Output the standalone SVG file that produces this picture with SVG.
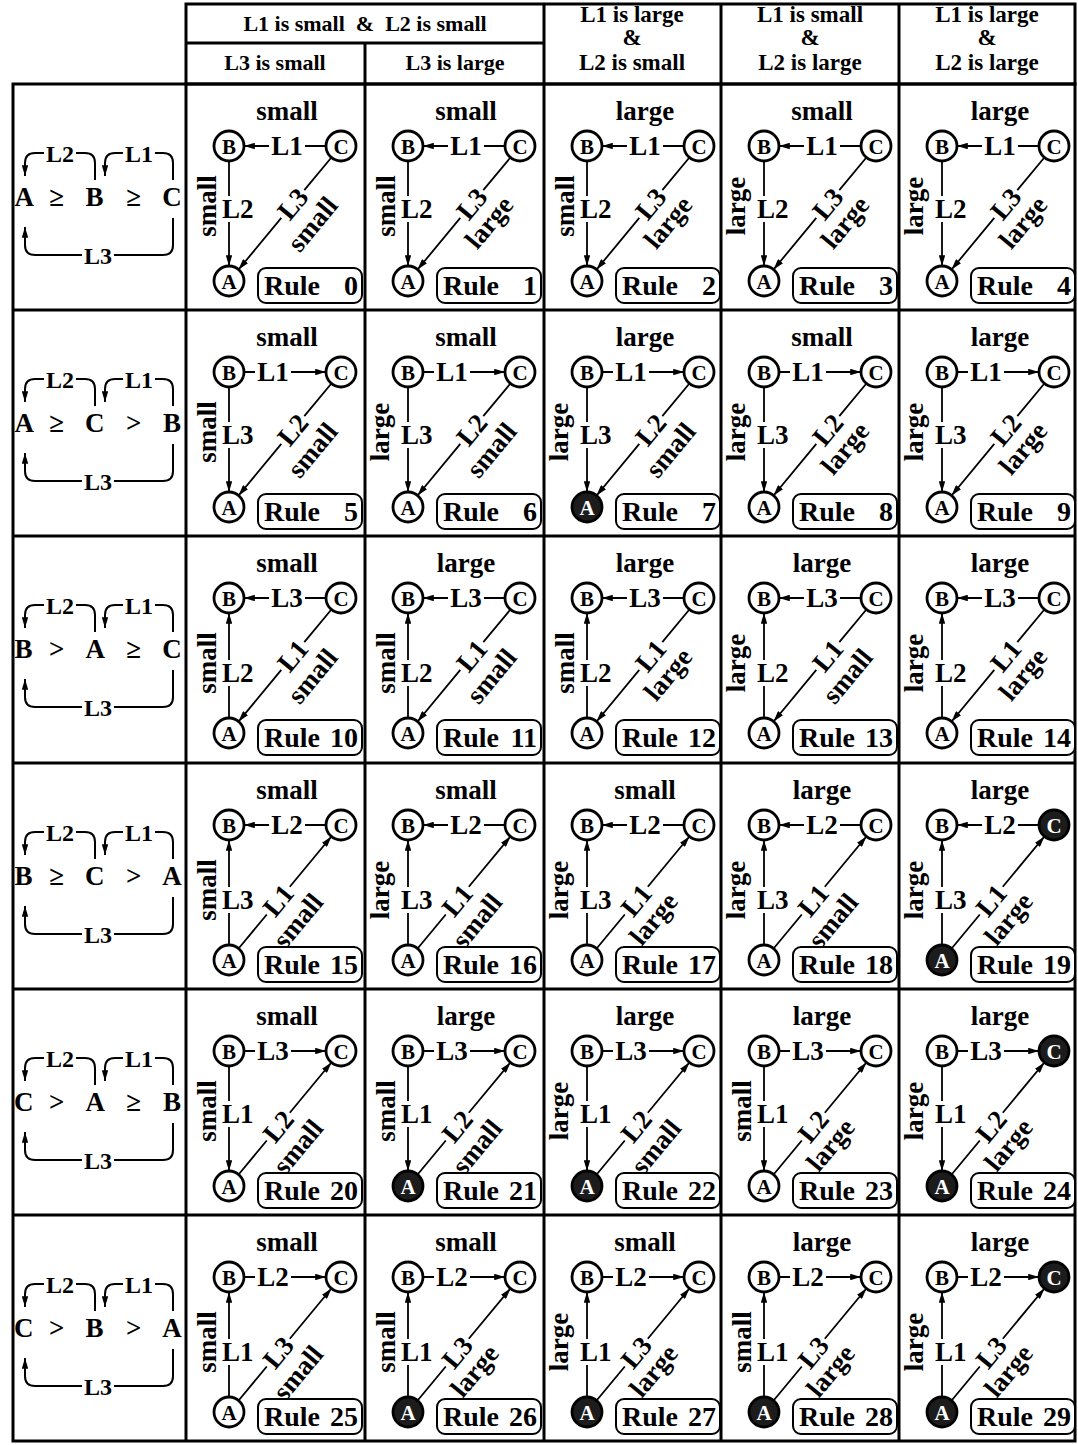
<svg xmlns="http://www.w3.org/2000/svg" width="1078" height="1445" viewBox="0 0 1078 1445">
<defs>
<marker id="ah" viewBox="0 0 10 6" refX="10" refY="3" markerWidth="11" markerHeight="6.5" orient="auto" markerUnits="userSpaceOnUse"><path d="M0,0 L10,3 L0,6 z" fill="#000"/></marker>
<style>
text{font-family:"Liberation Serif","Times New Roman",serif;font-weight:bold;fill:#000}
.tb{stroke:#000;stroke-width:3;fill:none}
#connectors path{stroke:#000;stroke-width:1.8;fill:none;marker-end:url(#ah)}
#connectors .arc{stroke-width:2}
.el{font-size:27px;text-anchor:middle}
.ev{font-size:27px;text-anchor:start}
.sz{font-size:27px;text-anchor:middle}
.node circle{fill:#fff;stroke:#000;stroke-width:2.8}
.node text{font-size:21px;text-anchor:middle}
.dk circle{fill:#1c1c1c}
.dk text{fill:#fff}
.rb{fill:#fff;stroke:#000;stroke-width:2}
.rt{font-size:28px}
.num{text-anchor:end}
.hd{font-size:22px;text-anchor:middle}
.hd3{font-size:23px;text-anchor:middle}
.lc{font-size:27px;text-anchor:middle}
.ll{font-size:24px;text-anchor:middle}
</style>
</defs>
<rect width="1078" height="1445" fill="#fff"/>

<g id="header">
<rect class="tb" x="186" y="4" width="889" height="80"/>
<line class="tb" x1="186" y1="43" x2="544" y2="43"/>
<line class="tb" x1="365" y1="43" x2="365" y2="84"/>
<line class="tb" x1="544" y1="4" x2="544" y2="84"/>
<line class="tb" x1="721" y1="4" x2="721" y2="84"/>
<line class="tb" x1="899" y1="4" x2="899" y2="84"/>
<text class="hd" x="365" y="31" xml:space="preserve">L1 is small  &amp;  L2 is small</text>
<text class="hd" x="275" y="70">L3 is small</text>
<text class="hd" x="455" y="70">L3 is large</text>
<text class="hd3" x="632" y="22">L1 is large</text>
<text class="hd3" x="632" y="45">&amp;</text>
<text class="hd3" x="632" y="70">L2 is small</text>
<text class="hd3" x="810" y="22">L1 is small</text>
<text class="hd3" x="810" y="45">&amp;</text>
<text class="hd3" x="810" y="70">L2 is large</text>
<text class="hd3" x="987" y="22">L1 is large</text>
<text class="hd3" x="987" y="45">&amp;</text>
<text class="hd3" x="987" y="70">L2 is large</text>
</g>

<g id="table">
<rect class="tb" x="13" y="84" width="1062" height="1357"/>
<line class="tb" x1="186" y1="84" x2="186" y2="1441"/>
<line class="tb" x1="365" y1="84" x2="365" y2="1441"/>
<line class="tb" x1="544" y1="84" x2="544" y2="1441"/>
<line class="tb" x1="721" y1="84" x2="721" y2="1441"/>
<line class="tb" x1="899" y1="84" x2="899" y2="1441"/>
<line class="tb" x1="13" y1="310" x2="1075" y2="310"/>
<line class="tb" x1="13" y1="536" x2="1075" y2="536"/>
<line class="tb" x1="13" y1="763" x2="1075" y2="763"/>
<line class="tb" x1="13" y1="989" x2="1075" y2="989"/>
<line class="tb" x1="13" y1="1215" x2="1075" y2="1215"/>
</g>

<g id="connectors">
<g transform="translate(0,84)"><path class="arc" d="M95,96 V79 Q95,69 85,69 H76 M44,69 H35 Q25,69 25,79 V92"/><path class="arc" d="M173,96 V79 Q173,69 163,69 H155 M123,69 H115 Q105,69 105,79 V92"/><path class="arc" d="M173,134 V161 Q173,171 163,171 H114 M82,171 H35 Q25,171 25,161 V143"/></g>
<g transform="translate(0,310)"><path class="arc" d="M95,96 V79 Q95,69 85,69 H76 M44,69 H35 Q25,69 25,79 V92"/><path class="arc" d="M173,96 V79 Q173,69 163,69 H155 M123,69 H115 Q105,69 105,79 V92"/><path class="arc" d="M173,134 V161 Q173,171 163,171 H114 M82,171 H35 Q25,171 25,161 V143"/></g>
<g transform="translate(0,536)"><path class="arc" d="M95,96 V79 Q95,69 85,69 H76 M44,69 H35 Q25,69 25,79 V92"/><path class="arc" d="M173,96 V79 Q173,69 163,69 H155 M123,69 H115 Q105,69 105,79 V92"/><path class="arc" d="M173,134 V161 Q173,171 163,171 H114 M82,171 H35 Q25,171 25,161 V143"/></g>
<g transform="translate(0,763)"><path class="arc" d="M95,96 V79 Q95,69 85,69 H76 M44,69 H35 Q25,69 25,79 V92"/><path class="arc" d="M173,96 V79 Q173,69 163,69 H155 M123,69 H115 Q105,69 105,79 V92"/><path class="arc" d="M173,134 V161 Q173,171 163,171 H114 M82,171 H35 Q25,171 25,161 V143"/></g>
<g transform="translate(0,989)"><path class="arc" d="M95,96 V79 Q95,69 85,69 H76 M44,69 H35 Q25,69 25,79 V92"/><path class="arc" d="M173,96 V79 Q173,69 163,69 H155 M123,69 H115 Q105,69 105,79 V92"/><path class="arc" d="M173,134 V161 Q173,171 163,171 H114 M82,171 H35 Q25,171 25,161 V143"/></g>
<g transform="translate(0,1215)"><path class="arc" d="M95,96 V79 Q95,69 85,69 H76 M44,69 H35 Q25,69 25,79 V92"/><path class="arc" d="M173,96 V79 Q173,69 163,69 H155 M123,69 H115 Q105,69 105,79 V92"/><path class="arc" d="M173,134 V161 Q173,171 163,171 H114 M82,171 H35 Q25,171 25,161 V143"/></g>

<g transform="translate(186,84)"><path d="M140,62 H119 M83,62 H58"/><path d="M43,77 V112 M43,138 V182"/><path d="M145.4,73.5 L118.3,106.1 M95.3,133.9 L52.6,185.5"/></g>
<g transform="translate(365,84)"><path d="M140,62 H119 M83,62 H58"/><path d="M43,77 V112 M43,138 V182"/><path d="M145.4,73.5 L118.3,106.1 M95.3,133.9 L52.6,185.5"/></g>
<g transform="translate(544,84)"><path d="M140,62 H119 M83,62 H58"/><path d="M43,77 V112 M43,138 V182"/><path d="M145.4,73.5 L118.3,106.1 M95.3,133.9 L52.6,185.5"/></g>
<g transform="translate(721,84)"><path d="M140,62 H119 M83,62 H58"/><path d="M43,77 V112 M43,138 V182"/><path d="M145.4,73.5 L118.3,106.1 M95.3,133.9 L52.6,185.5"/></g>
<g transform="translate(899,84)"><path d="M140,62 H119 M83,62 H58"/><path d="M43,77 V112 M43,138 V182"/><path d="M145.4,73.5 L118.3,106.1 M95.3,133.9 L52.6,185.5"/></g>

<g transform="translate(186,310)"><path d="M58,62 H69 M105,62 H140"/><path d="M43,77 V112 M43,138 V182"/><path d="M145.4,73.5 L118.3,106.1 M95.3,133.9 L52.6,185.5"/></g>
<g transform="translate(365,310)"><path d="M58,62 H69 M105,62 H140"/><path d="M43,77 V112 M43,138 V182"/><path d="M145.4,73.5 L118.3,106.1 M95.3,133.9 L52.6,185.5"/></g>
<g transform="translate(544,310)"><path d="M58,62 H69 M105,62 H140"/><path d="M43,77 V112 M43,138 V182"/><path d="M145.4,73.5 L118.3,106.1 M95.3,133.9 L52.6,185.5"/></g>
<g transform="translate(721,310)"><path d="M58,62 H69 M105,62 H140"/><path d="M43,77 V112 M43,138 V182"/><path d="M145.4,73.5 L118.3,106.1 M95.3,133.9 L52.6,185.5"/></g>
<g transform="translate(899,310)"><path d="M58,62 H69 M105,62 H140"/><path d="M43,77 V112 M43,138 V182"/><path d="M145.4,73.5 L118.3,106.1 M95.3,133.9 L52.6,185.5"/></g>

<g transform="translate(186,536)"><path d="M140,62 H119 M83,62 H58"/><path d="M43,182 V150 M43,124 V77"/><path d="M145.4,73.5 L118.3,106.1 M95.3,133.9 L52.6,185.5"/></g>
<g transform="translate(365,536)"><path d="M140,62 H119 M83,62 H58"/><path d="M43,182 V150 M43,124 V77"/><path d="M145.4,73.5 L118.3,106.1 M95.3,133.9 L52.6,185.5"/></g>
<g transform="translate(544,536)"><path d="M140,62 H119 M83,62 H58"/><path d="M43,182 V150 M43,124 V77"/><path d="M145.4,73.5 L118.3,106.1 M95.3,133.9 L52.6,185.5"/></g>
<g transform="translate(721,536)"><path d="M140,62 H119 M83,62 H58"/><path d="M43,182 V150 M43,124 V77"/><path d="M145.4,73.5 L118.3,106.1 M95.3,133.9 L52.6,185.5"/></g>
<g transform="translate(899,536)"><path d="M140,62 H119 M83,62 H58"/><path d="M43,182 V150 M43,124 V77"/><path d="M145.4,73.5 L118.3,106.1 M95.3,133.9 L52.6,185.5"/></g>

<g transform="translate(186,763)"><path d="M140,62 H119 M83,62 H58"/><path d="M43,182 V150 M43,124 V77"/><path d="M52.6,185.5 L80.8,151.5 M103.8,123.7 L145.4,73.5"/></g>
<g transform="translate(365,763)"><path d="M140,62 H119 M83,62 H58"/><path d="M43,182 V150 M43,124 V77"/><path d="M52.6,185.5 L80.8,151.5 M103.8,123.7 L145.4,73.5"/></g>
<g transform="translate(544,763)"><path d="M140,62 H119 M83,62 H58"/><path d="M43,182 V150 M43,124 V77"/><path d="M52.6,185.5 L80.8,151.5 M103.8,123.7 L145.4,73.5"/></g>
<g transform="translate(721,763)"><path d="M140,62 H119 M83,62 H58"/><path d="M43,182 V150 M43,124 V77"/><path d="M52.6,185.5 L80.8,151.5 M103.8,123.7 L145.4,73.5"/></g>
<g transform="translate(899,763)"><path d="M140,62 H119 M83,62 H58"/><path d="M43,182 V150 M43,124 V77"/><path d="M52.6,185.5 L80.8,151.5 M103.8,123.7 L145.4,73.5"/></g>

<g transform="translate(186,989)"><path d="M58,62 H69 M105,62 H140"/><path d="M43,77 V112 M43,138 V182"/><path d="M52.6,185.5 L80.8,151.5 M103.8,123.7 L145.4,73.5"/></g>
<g transform="translate(365,989)"><path d="M58,62 H69 M105,62 H140"/><path d="M43,77 V112 M43,138 V182"/><path d="M52.6,185.5 L80.8,151.5 M103.8,123.7 L145.4,73.5"/></g>
<g transform="translate(544,989)"><path d="M58,62 H69 M105,62 H140"/><path d="M43,77 V112 M43,138 V182"/><path d="M52.6,185.5 L80.8,151.5 M103.8,123.7 L145.4,73.5"/></g>
<g transform="translate(721,989)"><path d="M58,62 H69 M105,62 H140"/><path d="M43,77 V112 M43,138 V182"/><path d="M52.6,185.5 L80.8,151.5 M103.8,123.7 L145.4,73.5"/></g>
<g transform="translate(899,989)"><path d="M58,62 H69 M105,62 H140"/><path d="M43,77 V112 M43,138 V182"/><path d="M52.6,185.5 L80.8,151.5 M103.8,123.7 L145.4,73.5"/></g>

<g transform="translate(186,1215)"><path d="M58,62 H69 M105,62 H140"/><path d="M43,182 V150 M43,124 V77"/><path d="M52.6,185.5 L80.8,151.5 M103.8,123.7 L145.4,73.5"/></g>
<g transform="translate(365,1215)"><path d="M58,62 H69 M105,62 H140"/><path d="M43,182 V150 M43,124 V77"/><path d="M52.6,185.5 L80.8,151.5 M103.8,123.7 L145.4,73.5"/></g>
<g transform="translate(544,1215)"><path d="M58,62 H69 M105,62 H140"/><path d="M43,182 V150 M43,124 V77"/><path d="M52.6,185.5 L80.8,151.5 M103.8,123.7 L145.4,73.5"/></g>
<g transform="translate(721,1215)"><path d="M58,62 H69 M105,62 H140"/><path d="M43,182 V150 M43,124 V77"/><path d="M52.6,185.5 L80.8,151.5 M103.8,123.7 L145.4,73.5"/></g>
<g transform="translate(899,1215)"><path d="M58,62 H69 M105,62 H140"/><path d="M43,182 V150 M43,124 V77"/><path d="M52.6,185.5 L80.8,151.5 M103.8,123.7 L145.4,73.5"/></g>
</g>

<g id="orders">
<g id="order1" transform="translate(0,84)"><text class="ll" x="60" y="78">L2</text><text class="ll" x="139" y="78">L1</text><text class="ll" x="98" y="180">L3</text><text class="lc" y="122"><tspan x="27">A</tspan> <tspan x="60">≥</tspan> <tspan x="98">B</tspan> <tspan x="137">≥</tspan> <tspan x="172">C</tspan></text></g>
<g id="order2" transform="translate(0,310)"><text class="ll" x="60" y="78">L2</text><text class="ll" x="139" y="78">L1</text><text class="ll" x="98" y="180">L3</text><text class="lc" y="122"><tspan x="27">A</tspan> <tspan x="60">≥</tspan> <tspan x="98">C</tspan> <tspan x="137">&gt;</tspan> <tspan x="172">B</tspan></text></g>
<g id="order3" transform="translate(0,536)"><text class="ll" x="60" y="78">L2</text><text class="ll" x="139" y="78">L1</text><text class="ll" x="98" y="180">L3</text><text class="lc" y="122"><tspan x="27">B</tspan> <tspan x="60">&gt;</tspan> <tspan x="98">A</tspan> <tspan x="137">≥</tspan> <tspan x="172">C</tspan></text></g>
<g id="order4" transform="translate(0,763)"><text class="ll" x="60" y="78">L2</text><text class="ll" x="139" y="78">L1</text><text class="ll" x="98" y="180">L3</text><text class="lc" y="122"><tspan x="27">B</tspan> <tspan x="60">≥</tspan> <tspan x="98">C</tspan> <tspan x="137">&gt;</tspan> <tspan x="172">A</tspan></text></g>
<g id="order5" transform="translate(0,989)"><text class="ll" x="60" y="78">L2</text><text class="ll" x="139" y="78">L1</text><text class="ll" x="98" y="180">L3</text><text class="lc" y="122"><tspan x="27">C</tspan> <tspan x="60">&gt;</tspan> <tspan x="98">A</tspan> <tspan x="137">≥</tspan> <tspan x="172">B</tspan></text></g>
<g id="order6" transform="translate(0,1215)"><text class="ll" x="60" y="78">L2</text><text class="ll" x="139" y="78">L1</text><text class="ll" x="98" y="180">L3</text><text class="lc" y="122"><tspan x="27">C</tspan> <tspan x="60">&gt;</tspan> <tspan x="98">B</tspan> <tspan x="137">&gt;</tspan> <tspan x="172">A</tspan></text></g>
</g>

<g id="rules">
<g id="cell0" transform="translate(186,84)"><text class="sz" x="101" y="36">small</text><text class="el" x="101" y="71">L1</text><text class="ev" x="36" y="134">L2</text><text class="sz" transform="translate(30,122) rotate(-90)">small</text><g transform="translate(106.8,120) rotate(-50.3)"><text class="el" y="9">L3</text><text class="sz" x="-3" y="37">small</text></g><rect class="rb" x="72" y="184" width="104" height="35" rx="8"/><text class="rt" x="78" y="211">Rule <tspan class="num" x="172">0</tspan></text><g id="r0B" class="node" transform="translate(43,62)"><circle r="15"/><text y="7.5">B</text></g><g id="r0C" class="node" transform="translate(155,62)"><circle r="15"/><text y="7.5">C</text></g><g id="r0A" class="node" transform="translate(43,197)"><circle r="15"/><text y="7.5">A</text></g></g>
<g id="cell1" transform="translate(365,84)"><text class="sz" x="101" y="36">small</text><text class="el" x="101" y="71">L1</text><text class="ev" x="36" y="134">L2</text><text class="sz" transform="translate(30,122) rotate(-90)">small</text><g transform="translate(106.8,120) rotate(-50.3)"><text class="el" y="9">L3</text><text class="sz" x="-3" y="34">large</text></g><rect class="rb" x="72" y="184" width="104" height="35" rx="8"/><text class="rt" x="78" y="211">Rule <tspan class="num" x="172">1</tspan></text><g id="r1B" class="node" transform="translate(43,62)"><circle r="15"/><text y="7.5">B</text></g><g id="r1C" class="node" transform="translate(155,62)"><circle r="15"/><text y="7.5">C</text></g><g id="r1A" class="node" transform="translate(43,197)"><circle r="15"/><text y="7.5">A</text></g></g>
<g id="cell2" transform="translate(544,84)"><text class="sz" x="101" y="36">large</text><text class="el" x="101" y="71">L1</text><text class="ev" x="36" y="134">L2</text><text class="sz" transform="translate(30,122) rotate(-90)">small</text><g transform="translate(106.8,120) rotate(-50.3)"><text class="el" y="9">L3</text><text class="sz" x="-3" y="34">large</text></g><rect class="rb" x="72" y="184" width="104" height="35" rx="8"/><text class="rt" x="78" y="211">Rule <tspan class="num" x="172">2</tspan></text><g id="r2B" class="node" transform="translate(43,62)"><circle r="15"/><text y="7.5">B</text></g><g id="r2C" class="node" transform="translate(155,62)"><circle r="15"/><text y="7.5">C</text></g><g id="r2A" class="node" transform="translate(43,197)"><circle r="15"/><text y="7.5">A</text></g></g>
<g id="cell3" transform="translate(721,84)"><text class="sz" x="101" y="36">small</text><text class="el" x="101" y="71">L1</text><text class="ev" x="36" y="134">L2</text><text class="sz" transform="translate(24,122) rotate(-90)">large</text><g transform="translate(106.8,120) rotate(-50.3)"><text class="el" y="9">L3</text><text class="sz" x="-3" y="34">large</text></g><rect class="rb" x="72" y="184" width="104" height="35" rx="8"/><text class="rt" x="78" y="211">Rule <tspan class="num" x="172">3</tspan></text><g id="r3B" class="node" transform="translate(43,62)"><circle r="15"/><text y="7.5">B</text></g><g id="r3C" class="node" transform="translate(155,62)"><circle r="15"/><text y="7.5">C</text></g><g id="r3A" class="node" transform="translate(43,197)"><circle r="15"/><text y="7.5">A</text></g></g>
<g id="cell4" transform="translate(899,84)"><text class="sz" x="101" y="36">large</text><text class="el" x="101" y="71">L1</text><text class="ev" x="36" y="134">L2</text><text class="sz" transform="translate(24,122) rotate(-90)">large</text><g transform="translate(106.8,120) rotate(-50.3)"><text class="el" y="9">L3</text><text class="sz" x="-3" y="34">large</text></g><rect class="rb" x="72" y="184" width="104" height="35" rx="8"/><text class="rt" x="78" y="211">Rule <tspan class="num" x="172">4</tspan></text><g id="r4B" class="node" transform="translate(43,62)"><circle r="15"/><text y="7.5">B</text></g><g id="r4C" class="node" transform="translate(155,62)"><circle r="15"/><text y="7.5">C</text></g><g id="r4A" class="node" transform="translate(43,197)"><circle r="15"/><text y="7.5">A</text></g></g>
<g id="cell5" transform="translate(186,310)"><text class="sz" x="101" y="36">small</text><text class="el" x="87" y="71">L1</text><text class="ev" x="36" y="134">L3</text><text class="sz" transform="translate(30,122) rotate(-90)">small</text><g transform="translate(106.8,120) rotate(-50.3)"><text class="el" y="9">L2</text><text class="sz" x="-3" y="37">small</text></g><rect class="rb" x="72" y="184" width="104" height="35" rx="8"/><text class="rt" x="78" y="211">Rule <tspan class="num" x="172">5</tspan></text><g id="r5B" class="node" transform="translate(43,62)"><circle r="15"/><text y="7.5">B</text></g><g id="r5C" class="node" transform="translate(155,62)"><circle r="15"/><text y="7.5">C</text></g><g id="r5A" class="node" transform="translate(43,197)"><circle r="15"/><text y="7.5">A</text></g></g>
<g id="cell6" transform="translate(365,310)"><text class="sz" x="101" y="36">small</text><text class="el" x="87" y="71">L1</text><text class="ev" x="36" y="134">L3</text><text class="sz" transform="translate(24,122) rotate(-90)">large</text><g transform="translate(106.8,120) rotate(-50.3)"><text class="el" y="9">L2</text><text class="sz" x="-3" y="37">small</text></g><rect class="rb" x="72" y="184" width="104" height="35" rx="8"/><text class="rt" x="78" y="211">Rule <tspan class="num" x="172">6</tspan></text><g id="r6B" class="node" transform="translate(43,62)"><circle r="15"/><text y="7.5">B</text></g><g id="r6C" class="node" transform="translate(155,62)"><circle r="15"/><text y="7.5">C</text></g><g id="r6A" class="node" transform="translate(43,197)"><circle r="15"/><text y="7.5">A</text></g></g>
<g id="cell7" transform="translate(544,310)"><text class="sz" x="101" y="36">large</text><text class="el" x="87" y="71">L1</text><text class="ev" x="36" y="134">L3</text><text class="sz" transform="translate(24,122) rotate(-90)">large</text><g transform="translate(106.8,120) rotate(-50.3)"><text class="el" y="9">L2</text><text class="sz" x="-3" y="37">small</text></g><rect class="rb" x="72" y="184" width="104" height="35" rx="8"/><text class="rt" x="78" y="211">Rule <tspan class="num" x="172">7</tspan></text><g id="r7B" class="node" transform="translate(43,62)"><circle r="15"/><text y="7.5">B</text></g><g id="r7C" class="node" transform="translate(155,62)"><circle r="15"/><text y="7.5">C</text></g><g id="r7A" class="node dk" transform="translate(43,197)"><circle r="15"/><text y="7.5">A</text></g></g>
<g id="cell8" transform="translate(721,310)"><text class="sz" x="101" y="36">small</text><text class="el" x="87" y="71">L1</text><text class="ev" x="36" y="134">L3</text><text class="sz" transform="translate(24,122) rotate(-90)">large</text><g transform="translate(106.8,120) rotate(-50.3)"><text class="el" y="9">L2</text><text class="sz" x="-3" y="34">large</text></g><rect class="rb" x="72" y="184" width="104" height="35" rx="8"/><text class="rt" x="78" y="211">Rule <tspan class="num" x="172">8</tspan></text><g id="r8B" class="node" transform="translate(43,62)"><circle r="15"/><text y="7.5">B</text></g><g id="r8C" class="node" transform="translate(155,62)"><circle r="15"/><text y="7.5">C</text></g><g id="r8A" class="node" transform="translate(43,197)"><circle r="15"/><text y="7.5">A</text></g></g>
<g id="cell9" transform="translate(899,310)"><text class="sz" x="101" y="36">large</text><text class="el" x="87" y="71">L1</text><text class="ev" x="36" y="134">L3</text><text class="sz" transform="translate(24,122) rotate(-90)">large</text><g transform="translate(106.8,120) rotate(-50.3)"><text class="el" y="9">L2</text><text class="sz" x="-3" y="34">large</text></g><rect class="rb" x="72" y="184" width="104" height="35" rx="8"/><text class="rt" x="78" y="211">Rule <tspan class="num" x="172">9</tspan></text><g id="r9B" class="node" transform="translate(43,62)"><circle r="15"/><text y="7.5">B</text></g><g id="r9C" class="node" transform="translate(155,62)"><circle r="15"/><text y="7.5">C</text></g><g id="r9A" class="node" transform="translate(43,197)"><circle r="15"/><text y="7.5">A</text></g></g>
<g id="cell10" transform="translate(186,536)"><text class="sz" x="101" y="36">small</text><text class="el" x="101" y="71">L3</text><text class="ev" x="36" y="146">L2</text><text class="sz" transform="translate(30,127) rotate(-90)">small</text><g transform="translate(106.8,120) rotate(-50.3)"><text class="el" y="9">L1</text><text class="sz" x="-3" y="37">small</text></g><rect class="rb" x="72" y="184" width="104" height="35" rx="8"/><text class="rt" x="78" y="211">Rule <tspan class="num" x="172">10</tspan></text><g id="r10B" class="node" transform="translate(43,62)"><circle r="15"/><text y="7.5">B</text></g><g id="r10C" class="node" transform="translate(155,62)"><circle r="15"/><text y="7.5">C</text></g><g id="r10A" class="node" transform="translate(43,197)"><circle r="15"/><text y="7.5">A</text></g></g>
<g id="cell11" transform="translate(365,536)"><text class="sz" x="101" y="36">large</text><text class="el" x="101" y="71">L3</text><text class="ev" x="36" y="146">L2</text><text class="sz" transform="translate(30,127) rotate(-90)">small</text><g transform="translate(106.8,120) rotate(-50.3)"><text class="el" y="9">L1</text><text class="sz" x="-3" y="37">small</text></g><rect class="rb" x="72" y="184" width="104" height="35" rx="8"/><text class="rt" x="78" y="211">Rule <tspan class="num" x="172">11</tspan></text><g id="r11B" class="node" transform="translate(43,62)"><circle r="15"/><text y="7.5">B</text></g><g id="r11C" class="node" transform="translate(155,62)"><circle r="15"/><text y="7.5">C</text></g><g id="r11A" class="node" transform="translate(43,197)"><circle r="15"/><text y="7.5">A</text></g></g>
<g id="cell12" transform="translate(544,536)"><text class="sz" x="101" y="36">large</text><text class="el" x="101" y="71">L3</text><text class="ev" x="36" y="146">L2</text><text class="sz" transform="translate(30,127) rotate(-90)">small</text><g transform="translate(106.8,120) rotate(-50.3)"><text class="el" y="9">L1</text><text class="sz" x="-3" y="34">large</text></g><rect class="rb" x="72" y="184" width="104" height="35" rx="8"/><text class="rt" x="78" y="211">Rule <tspan class="num" x="172">12</tspan></text><g id="r12B" class="node" transform="translate(43,62)"><circle r="15"/><text y="7.5">B</text></g><g id="r12C" class="node" transform="translate(155,62)"><circle r="15"/><text y="7.5">C</text></g><g id="r12A" class="node" transform="translate(43,197)"><circle r="15"/><text y="7.5">A</text></g></g>
<g id="cell13" transform="translate(721,536)"><text class="sz" x="101" y="36">large</text><text class="el" x="101" y="71">L3</text><text class="ev" x="36" y="146">L2</text><text class="sz" transform="translate(24,127) rotate(-90)">large</text><g transform="translate(106.8,120) rotate(-50.3)"><text class="el" y="9">L1</text><text class="sz" x="-3" y="37">small</text></g><rect class="rb" x="72" y="184" width="104" height="35" rx="8"/><text class="rt" x="78" y="211">Rule <tspan class="num" x="172">13</tspan></text><g id="r13B" class="node" transform="translate(43,62)"><circle r="15"/><text y="7.5">B</text></g><g id="r13C" class="node" transform="translate(155,62)"><circle r="15"/><text y="7.5">C</text></g><g id="r13A" class="node" transform="translate(43,197)"><circle r="15"/><text y="7.5">A</text></g></g>
<g id="cell14" transform="translate(899,536)"><text class="sz" x="101" y="36">large</text><text class="el" x="101" y="71">L3</text><text class="ev" x="36" y="146">L2</text><text class="sz" transform="translate(24,127) rotate(-90)">large</text><g transform="translate(106.8,120) rotate(-50.3)"><text class="el" y="9">L1</text><text class="sz" x="-3" y="34">large</text></g><rect class="rb" x="72" y="184" width="104" height="35" rx="8"/><text class="rt" x="78" y="211">Rule <tspan class="num" x="172">14</tspan></text><g id="r14B" class="node" transform="translate(43,62)"><circle r="15"/><text y="7.5">B</text></g><g id="r14C" class="node" transform="translate(155,62)"><circle r="15"/><text y="7.5">C</text></g><g id="r14A" class="node" transform="translate(43,197)"><circle r="15"/><text y="7.5">A</text></g></g>
<g id="cell15" transform="translate(186,763)"><text class="sz" x="101" y="36">small</text><text class="el" x="101" y="71">L2</text><text class="ev" x="36" y="146">L3</text><text class="sz" transform="translate(30,127) rotate(-90)">small</text><g transform="translate(92.3,137.6) rotate(-50.3)"><text class="el" y="9">L1</text><text class="sz" x="-3" y="37">small</text></g><rect class="rb" x="72" y="184" width="104" height="35" rx="8"/><text class="rt" x="78" y="211">Rule <tspan class="num" x="172">15</tspan></text><g id="r15B" class="node" transform="translate(43,62)"><circle r="15"/><text y="7.5">B</text></g><g id="r15C" class="node" transform="translate(155,62)"><circle r="15"/><text y="7.5">C</text></g><g id="r15A" class="node" transform="translate(43,197)"><circle r="15"/><text y="7.5">A</text></g></g>
<g id="cell16" transform="translate(365,763)"><text class="sz" x="101" y="36">small</text><text class="el" x="101" y="71">L2</text><text class="ev" x="36" y="146">L3</text><text class="sz" transform="translate(24,127) rotate(-90)">large</text><g transform="translate(92.3,137.6) rotate(-50.3)"><text class="el" y="9">L1</text><text class="sz" x="-3" y="37">small</text></g><rect class="rb" x="72" y="184" width="104" height="35" rx="8"/><text class="rt" x="78" y="211">Rule <tspan class="num" x="172">16</tspan></text><g id="r16B" class="node" transform="translate(43,62)"><circle r="15"/><text y="7.5">B</text></g><g id="r16C" class="node" transform="translate(155,62)"><circle r="15"/><text y="7.5">C</text></g><g id="r16A" class="node" transform="translate(43,197)"><circle r="15"/><text y="7.5">A</text></g></g>
<g id="cell17" transform="translate(544,763)"><text class="sz" x="101" y="36">small</text><text class="el" x="101" y="71">L2</text><text class="ev" x="36" y="146">L3</text><text class="sz" transform="translate(24,127) rotate(-90)">large</text><g transform="translate(92.3,137.6) rotate(-50.3)"><text class="el" y="9">L1</text><text class="sz" x="-3" y="34">large</text></g><rect class="rb" x="72" y="184" width="104" height="35" rx="8"/><text class="rt" x="78" y="211">Rule <tspan class="num" x="172">17</tspan></text><g id="r17B" class="node" transform="translate(43,62)"><circle r="15"/><text y="7.5">B</text></g><g id="r17C" class="node" transform="translate(155,62)"><circle r="15"/><text y="7.5">C</text></g><g id="r17A" class="node" transform="translate(43,197)"><circle r="15"/><text y="7.5">A</text></g></g>
<g id="cell18" transform="translate(721,763)"><text class="sz" x="101" y="36">large</text><text class="el" x="101" y="71">L2</text><text class="ev" x="36" y="146">L3</text><text class="sz" transform="translate(24,127) rotate(-90)">large</text><g transform="translate(92.3,137.6) rotate(-50.3)"><text class="el" y="9">L1</text><text class="sz" x="-3" y="37">small</text></g><rect class="rb" x="72" y="184" width="104" height="35" rx="8"/><text class="rt" x="78" y="211">Rule <tspan class="num" x="172">18</tspan></text><g id="r18B" class="node" transform="translate(43,62)"><circle r="15"/><text y="7.5">B</text></g><g id="r18C" class="node" transform="translate(155,62)"><circle r="15"/><text y="7.5">C</text></g><g id="r18A" class="node" transform="translate(43,197)"><circle r="15"/><text y="7.5">A</text></g></g>
<g id="cell19" transform="translate(899,763)"><text class="sz" x="101" y="36">large</text><text class="el" x="101" y="71">L2</text><text class="ev" x="36" y="146">L3</text><text class="sz" transform="translate(24,127) rotate(-90)">large</text><g transform="translate(92.3,137.6) rotate(-50.3)"><text class="el" y="9">L1</text><text class="sz" x="-3" y="34">large</text></g><rect class="rb" x="72" y="184" width="104" height="35" rx="8"/><text class="rt" x="78" y="211">Rule <tspan class="num" x="172">19</tspan></text><g id="r19B" class="node" transform="translate(43,62)"><circle r="15"/><text y="7.5">B</text></g><g id="r19C" class="node dk" transform="translate(155,62)"><circle r="15"/><text y="7.5">C</text></g><g id="r19A" class="node dk" transform="translate(43,197)"><circle r="15"/><text y="7.5">A</text></g></g>
<g id="cell20" transform="translate(186,989)"><text class="sz" x="101" y="36">small</text><text class="el" x="87" y="71">L3</text><text class="ev" x="36" y="134">L1</text><text class="sz" transform="translate(30,122) rotate(-90)">small</text><g transform="translate(92.3,137.6) rotate(-50.3)"><text class="el" y="9">L2</text><text class="sz" x="-3" y="37">small</text></g><rect class="rb" x="72" y="184" width="104" height="35" rx="8"/><text class="rt" x="78" y="211">Rule <tspan class="num" x="172">20</tspan></text><g id="r20B" class="node" transform="translate(43,62)"><circle r="15"/><text y="7.5">B</text></g><g id="r20C" class="node" transform="translate(155,62)"><circle r="15"/><text y="7.5">C</text></g><g id="r20A" class="node" transform="translate(43,197)"><circle r="15"/><text y="7.5">A</text></g></g>
<g id="cell21" transform="translate(365,989)"><text class="sz" x="101" y="36">large</text><text class="el" x="87" y="71">L3</text><text class="ev" x="36" y="134">L1</text><text class="sz" transform="translate(30,122) rotate(-90)">small</text><g transform="translate(92.3,137.6) rotate(-50.3)"><text class="el" y="9">L2</text><text class="sz" x="-3" y="37">small</text></g><rect class="rb" x="72" y="184" width="104" height="35" rx="8"/><text class="rt" x="78" y="211">Rule <tspan class="num" x="172">21</tspan></text><g id="r21B" class="node" transform="translate(43,62)"><circle r="15"/><text y="7.5">B</text></g><g id="r21C" class="node" transform="translate(155,62)"><circle r="15"/><text y="7.5">C</text></g><g id="r21A" class="node dk" transform="translate(43,197)"><circle r="15"/><text y="7.5">A</text></g></g>
<g id="cell22" transform="translate(544,989)"><text class="sz" x="101" y="36">large</text><text class="el" x="87" y="71">L3</text><text class="ev" x="36" y="134">L1</text><text class="sz" transform="translate(24,122) rotate(-90)">large</text><g transform="translate(92.3,137.6) rotate(-50.3)"><text class="el" y="9">L2</text><text class="sz" x="-3" y="37">small</text></g><rect class="rb" x="72" y="184" width="104" height="35" rx="8"/><text class="rt" x="78" y="211">Rule <tspan class="num" x="172">22</tspan></text><g id="r22B" class="node" transform="translate(43,62)"><circle r="15"/><text y="7.5">B</text></g><g id="r22C" class="node" transform="translate(155,62)"><circle r="15"/><text y="7.5">C</text></g><g id="r22A" class="node dk" transform="translate(43,197)"><circle r="15"/><text y="7.5">A</text></g></g>
<g id="cell23" transform="translate(721,989)"><text class="sz" x="101" y="36">large</text><text class="el" x="87" y="71">L3</text><text class="ev" x="36" y="134">L1</text><text class="sz" transform="translate(30,122) rotate(-90)">small</text><g transform="translate(92.3,137.6) rotate(-50.3)"><text class="el" y="9">L2</text><text class="sz" x="-3" y="34">large</text></g><rect class="rb" x="72" y="184" width="104" height="35" rx="8"/><text class="rt" x="78" y="211">Rule <tspan class="num" x="172">23</tspan></text><g id="r23B" class="node" transform="translate(43,62)"><circle r="15"/><text y="7.5">B</text></g><g id="r23C" class="node" transform="translate(155,62)"><circle r="15"/><text y="7.5">C</text></g><g id="r23A" class="node" transform="translate(43,197)"><circle r="15"/><text y="7.5">A</text></g></g>
<g id="cell24" transform="translate(899,989)"><text class="sz" x="101" y="36">large</text><text class="el" x="87" y="71">L3</text><text class="ev" x="36" y="134">L1</text><text class="sz" transform="translate(24,122) rotate(-90)">large</text><g transform="translate(92.3,137.6) rotate(-50.3)"><text class="el" y="9">L2</text><text class="sz" x="-3" y="34">large</text></g><rect class="rb" x="72" y="184" width="104" height="35" rx="8"/><text class="rt" x="78" y="211">Rule <tspan class="num" x="172">24</tspan></text><g id="r24B" class="node" transform="translate(43,62)"><circle r="15"/><text y="7.5">B</text></g><g id="r24C" class="node dk" transform="translate(155,62)"><circle r="15"/><text y="7.5">C</text></g><g id="r24A" class="node dk" transform="translate(43,197)"><circle r="15"/><text y="7.5">A</text></g></g>
<g id="cell25" transform="translate(186,1215)"><text class="sz" x="101" y="36">small</text><text class="el" x="87" y="71">L2</text><text class="ev" x="36" y="146">L1</text><text class="sz" transform="translate(30,127) rotate(-90)">small</text><g transform="translate(92.3,137.6) rotate(-50.3)"><text class="el" y="9">L3</text><text class="sz" x="-3" y="37">small</text></g><rect class="rb" x="72" y="184" width="104" height="35" rx="8"/><text class="rt" x="78" y="211">Rule <tspan class="num" x="172">25</tspan></text><g id="r25B" class="node" transform="translate(43,62)"><circle r="15"/><text y="7.5">B</text></g><g id="r25C" class="node" transform="translate(155,62)"><circle r="15"/><text y="7.5">C</text></g><g id="r25A" class="node" transform="translate(43,197)"><circle r="15"/><text y="7.5">A</text></g></g>
<g id="cell26" transform="translate(365,1215)"><text class="sz" x="101" y="36">small</text><text class="el" x="87" y="71">L2</text><text class="ev" x="36" y="146">L1</text><text class="sz" transform="translate(30,127) rotate(-90)">small</text><g transform="translate(92.3,137.6) rotate(-50.3)"><text class="el" y="9">L3</text><text class="sz" x="-3" y="34">large</text></g><rect class="rb" x="72" y="184" width="104" height="35" rx="8"/><text class="rt" x="78" y="211">Rule <tspan class="num" x="172">26</tspan></text><g id="r26B" class="node" transform="translate(43,62)"><circle r="15"/><text y="7.5">B</text></g><g id="r26C" class="node" transform="translate(155,62)"><circle r="15"/><text y="7.5">C</text></g><g id="r26A" class="node dk" transform="translate(43,197)"><circle r="15"/><text y="7.5">A</text></g></g>
<g id="cell27" transform="translate(544,1215)"><text class="sz" x="101" y="36">small</text><text class="el" x="87" y="71">L2</text><text class="ev" x="36" y="146">L1</text><text class="sz" transform="translate(24,127) rotate(-90)">large</text><g transform="translate(92.3,137.6) rotate(-50.3)"><text class="el" y="9">L3</text><text class="sz" x="-3" y="34">large</text></g><rect class="rb" x="72" y="184" width="104" height="35" rx="8"/><text class="rt" x="78" y="211">Rule <tspan class="num" x="172">27</tspan></text><g id="r27B" class="node" transform="translate(43,62)"><circle r="15"/><text y="7.5">B</text></g><g id="r27C" class="node" transform="translate(155,62)"><circle r="15"/><text y="7.5">C</text></g><g id="r27A" class="node dk" transform="translate(43,197)"><circle r="15"/><text y="7.5">A</text></g></g>
<g id="cell28" transform="translate(721,1215)"><text class="sz" x="101" y="36">large</text><text class="el" x="87" y="71">L2</text><text class="ev" x="36" y="146">L1</text><text class="sz" transform="translate(30,127) rotate(-90)">small</text><g transform="translate(92.3,137.6) rotate(-50.3)"><text class="el" y="9">L3</text><text class="sz" x="-3" y="34">large</text></g><rect class="rb" x="72" y="184" width="104" height="35" rx="8"/><text class="rt" x="78" y="211">Rule <tspan class="num" x="172">28</tspan></text><g id="r28B" class="node" transform="translate(43,62)"><circle r="15"/><text y="7.5">B</text></g><g id="r28C" class="node" transform="translate(155,62)"><circle r="15"/><text y="7.5">C</text></g><g id="r28A" class="node dk" transform="translate(43,197)"><circle r="15"/><text y="7.5">A</text></g></g>
<g id="cell29" transform="translate(899,1215)"><text class="sz" x="101" y="36">large</text><text class="el" x="87" y="71">L2</text><text class="ev" x="36" y="146">L1</text><text class="sz" transform="translate(24,127) rotate(-90)">large</text><g transform="translate(92.3,137.6) rotate(-50.3)"><text class="el" y="9">L3</text><text class="sz" x="-3" y="34">large</text></g><rect class="rb" x="72" y="184" width="104" height="35" rx="8"/><text class="rt" x="78" y="211">Rule <tspan class="num" x="172">29</tspan></text><g id="r29B" class="node" transform="translate(43,62)"><circle r="15"/><text y="7.5">B</text></g><g id="r29C" class="node dk" transform="translate(155,62)"><circle r="15"/><text y="7.5">C</text></g><g id="r29A" class="node dk" transform="translate(43,197)"><circle r="15"/><text y="7.5">A</text></g></g>
</g>
</svg>
